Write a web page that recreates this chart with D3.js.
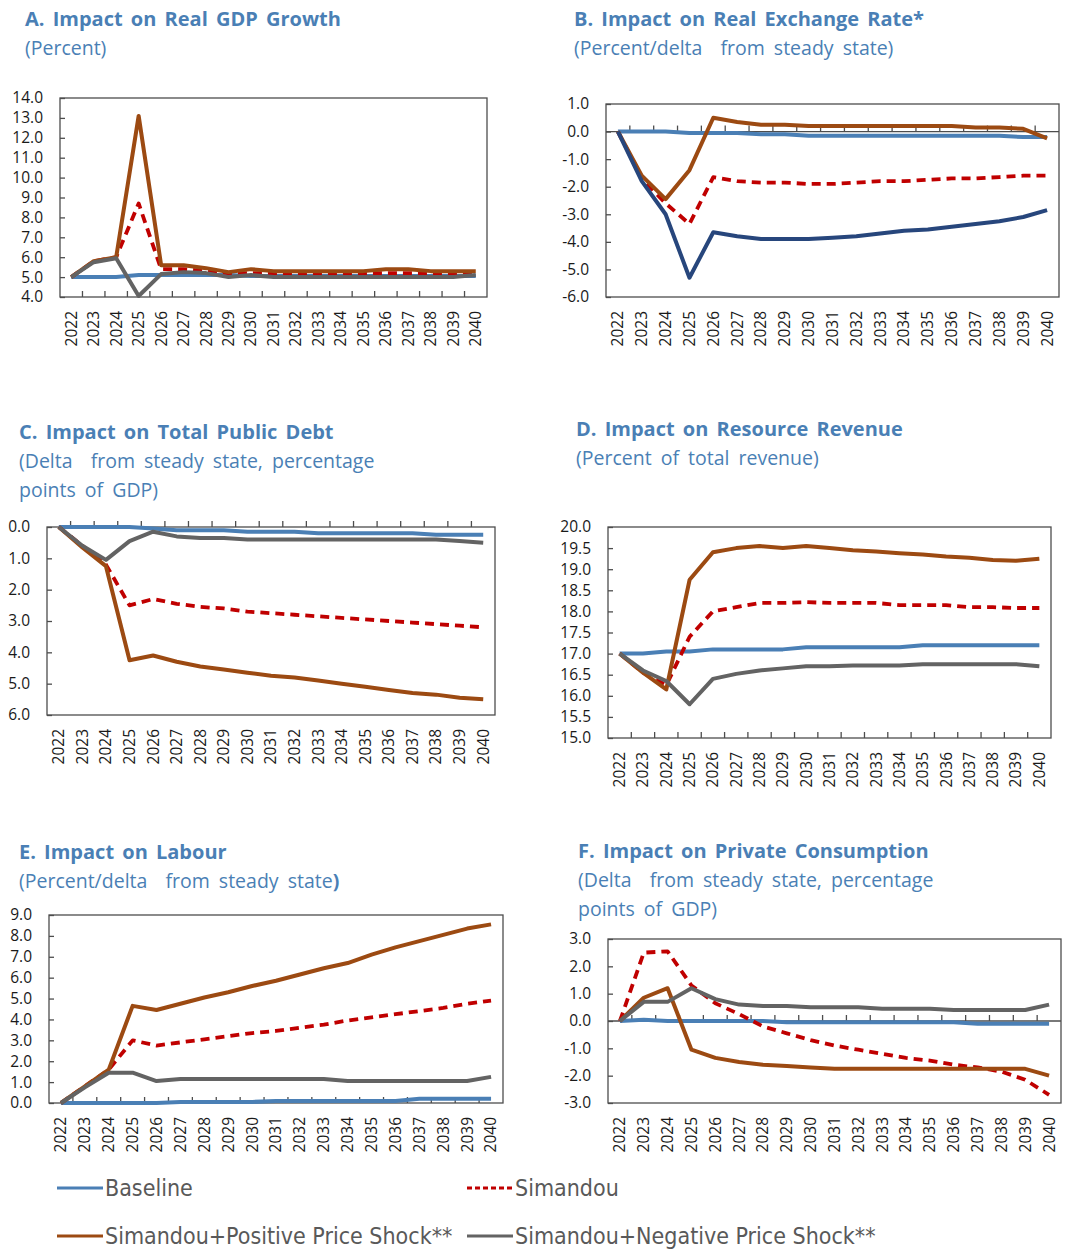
<!DOCTYPE html>
<html>
<head>
<meta charset="utf-8">
<script src="https://cdn.jsdelivr.net/npm/d3@7"></script>
<style>
  body { margin: 0; background: #fff; }
  svg { display: block; }
  .title { font-family: "Open Sans", "Noto Sans", sans-serif; font-weight: 700; fill: #4a7fb5; word-spacing: 3px; white-space: pre; }
  .sub { font-family: "Open Sans", "Noto Sans", sans-serif; fill: #4a7fb5; white-space: pre; }
  .tick text { font-family: "Open Sans", "Noto Sans", sans-serif; fill: #1a1a1a; }
  .legend text { font-family: "Liberation Sans Narrow", "DejaVu Sans Condensed", sans-serif; fill: #595959; }
</style>
</head>
<body>
<div id="chart"></div>
<script>
/** Data. */
const YEARS = ["2022", "2023", "2024", "2025", "2026", "2027", "2028", "2029", "2030", "2031",
               "2032", "2033", "2034", "2035", "2036", "2037", "2038", "2039", "2040"];

const SERIES_NAMES = ["Baseline", "Simandou", "Simandou+Positive Price Shock**", "Simandou+Negative Price Shock**"];

// A. Real GDP growth
const gdpBaseline = [5.0, 5.0, 5.0, 5.1, 5.1, 5.1, 5.1, 5.1, 5.05, 5.05, 5.05, 5.05, 5.05, 5.05, 5.05, 5.05, 5.05, 5.05, 5.05];
const gdpSimandou = [5.0, 5.8, 6.0, 8.7, 5.4, 5.4, 5.3, 5.2, 5.2, 5.2, 5.2, 5.2, 5.2, 5.2, 5.2, 5.2, 5.2, 5.2, 5.2];
const gdpPositive = [5.0, 5.8, 6.0, 13.1, 5.6, 5.6, 5.45, 5.25, 5.4, 5.3, 5.3, 5.3, 5.3, 5.3, 5.4, 5.4, 5.3, 5.3, 5.3];
const gdpNegative = [5.0, 5.75, 5.95, 4.05, 5.15, 5.25, 5.2, 5.0, 5.1, 5.0, 5.0, 5.0, 5.0, 5.0, 5.0, 5.0, 5.0, 5.0, 5.1];

// B. Real exchange rate
const rerBaseline = [0, 0, 0, -0.05, -0.05, -0.05, -0.1, -0.1, -0.15, -0.15, -0.15, -0.15, -0.15, -0.15, -0.15, -0.15, -0.15, -0.2, -0.2];
const rerSimandou = [0, -1.7, -2.6, -3.35, -1.65, -1.8, -1.85, -1.85, -1.9, -1.9, -1.85, -1.8, -1.8, -1.75, -1.7, -1.7, -1.65, -1.6, -1.6];
const rerPositive = [0, -1.6, -2.45, -1.4, 0.5, 0.35, 0.25, 0.25, 0.2, 0.2, 0.2, 0.2, 0.2, 0.2, 0.2, 0.15, 0.15, 0.1, -0.25];
const rerNegative = [0, -1.8, -3.0, -5.3, -3.65, -3.8, -3.9, -3.9, -3.9, -3.85, -3.8, -3.7, -3.6, -3.55, -3.45, -3.35, -3.25, -3.1, -2.85];

// C. Total public debt (reversed axis)
const debtBaseline = [0, 0, 0, 0, 0.05, 0.1, 0.1, 0.1, 0.15, 0.15, 0.15, 0.2, 0.2, 0.2, 0.2, 0.2, 0.25, 0.25, 0.25];
const debtSimandou = [0, 0.6, 1.2, 2.5, 2.3, 2.45, 2.55, 2.6, 2.7, 2.75, 2.8, 2.85, 2.9, 2.95, 3.0, 3.05, 3.1, 3.15, 3.2];
const debtPositive = [0, 0.65, 1.25, 4.25, 4.1, 4.3, 4.45, 4.55, 4.65, 4.75, 4.8, 4.9, 5.0, 5.1, 5.2, 5.3, 5.35, 5.45, 5.5];
const debtNegative = [0, 0.6, 1.05, 0.45, 0.15, 0.3, 0.35, 0.35, 0.4, 0.4, 0.4, 0.4, 0.4, 0.4, 0.4, 0.4, 0.4, 0.45, 0.5];

// D. Resource revenue
const revBaseline = [17.0, 17.0, 17.05, 17.05, 17.1, 17.1, 17.1, 17.1, 17.15, 17.15, 17.15, 17.15, 17.15, 17.2, 17.2, 17.2, 17.2, 17.2, 17.2];
const revSimandou = [17.0, 16.55, 16.25, 17.4, 18.0, 18.1, 18.2, 18.2, 18.22, 18.2, 18.2, 18.2, 18.15, 18.15, 18.15, 18.1, 18.1, 18.08, 18.08];
const revPositive = [17.0, 16.55, 16.15, 18.75, 19.4, 19.5, 19.55, 19.5, 19.55, 19.5, 19.45, 19.42, 19.38, 19.35, 19.3, 19.27, 19.22, 19.2, 19.25];
const revNegative = [17.0, 16.6, 16.35, 15.8, 16.4, 16.52, 16.6, 16.65, 16.7, 16.7, 16.72, 16.72, 16.72, 16.75, 16.75, 16.75, 16.75, 16.75, 16.7];

// E. Labour
const labBaseline = [0, 0, 0, 0, 0, 0.05, 0.05, 0.05, 0.05, 0.1, 0.1, 0.1, 0.1, 0.1, 0.1, 0.2, 0.2, 0.2, 0.2];
const labSimandou = [0, 0.8, 1.6, 3.0, 2.75, 2.9, 3.05, 3.2, 3.35, 3.45, 3.6, 3.75, 3.95, 4.1, 4.25, 4.4, 4.55, 4.75, 4.9];
const labPositive = [0, 0.8, 1.6, 4.65, 4.45, 4.75, 5.05, 5.3, 5.6, 5.85, 6.15, 6.45, 6.7, 7.1, 7.45, 7.75, 8.05, 8.35, 8.55];
const labNegative = [0, 0.75, 1.45, 1.45, 1.05, 1.15, 1.15, 1.15, 1.15, 1.15, 1.15, 1.15, 1.05, 1.05, 1.05, 1.05, 1.05, 1.05, 1.25];

// F. Private consumption
const conBaseline = [0, 0.05, 0, 0, 0, 0, 0, -0.05, -0.05, -0.05, -0.05, -0.05, -0.05, -0.05, -0.05, -0.1, -0.1, -0.1, -0.1];
const conSimandou = [0, 2.5, 2.55, 1.3, 0.65, 0.25, -0.2, -0.45, -0.7, -0.9, -1.05, -1.2, -1.35, -1.45, -1.6, -1.7, -1.85, -2.15, -2.7];
const conPositive = [0, 0.85, 1.2, -1.05, -1.35, -1.5, -1.6, -1.65, -1.7, -1.75, -1.75, -1.75, -1.75, -1.75, -1.75, -1.75, -1.75, -1.75, -2.0];
const conNegative = [0, 0.7, 0.7, 1.2, 0.8, 0.6, 0.55, 0.55, 0.5, 0.5, 0.5, 0.45, 0.45, 0.45, 0.4, 0.4, 0.4, 0.4, 0.6];

/** Styling. */
const WIDTH = 1066;
const HEIGHT = 1252;
const COLORS = {baseline: "#4a7fb5", simandou: "#c00000", positive: "#9c4a12", negative: "#636363", navy: "#27467c"};

const svg = d3.select("#chart").append("svg")
    .attr("width", WIDTH)
    .attr("height", HEIGHT);

const PANELS = [
    {title: "A. Impact on Real GDP Growth", sub: ["(Percent)"], tx: 25, ty: 26,
     box: {l: 60, t: 98, r: 487, b: 297}, domain: [4, 14], step: 1, tickAt: "bottom",
     series: [gdpBaseline, gdpSimandou, gdpPositive, gdpNegative]},
    {title: "B. Impact on Real Exchange Rate*", sub: ["(Percent/delta  from steady state)"], tx: 574, ty: 26,
     box: {l: 606, t: 104, r: 1059, b: 297}, domain: [-6, 1], step: 1, tickAt: "zero", negColor: COLORS.navy,
     series: [rerBaseline, rerSimandou, rerPositive, rerNegative]},
    {title: "C. Impact on Total Public Debt", sub: ["(Delta  from steady state, percentage", "points of GDP)"], tx: 19, ty: 439,
     box: {l: 47, t: 527, r: 495, b: 715}, domain: [0, 6], step: 1, tickAt: "top", reversed: true,
     series: [debtBaseline, debtSimandou, debtPositive, debtNegative]},
    {title: "D. Impact on Resource Revenue", sub: ["(Percent of total revenue)"], tx: 576, ty: 436,
     box: {l: 608, t: 527, r: 1051, b: 738}, domain: [15, 20], step: 0.5, tickAt: "bottom",
     series: [revBaseline, revSimandou, revPositive, revNegative]},
    {title: "E. Impact on Labour", sub: ["(Percent/delta  from steady state"], boldTail: ")", tx: 19, ty: 859,
     box: {l: 49, t: 915, r: 503, b: 1103}, domain: [0, 9], step: 1, tickAt: "bottom",
     series: [labBaseline, labSimandou, labPositive, labNegative]},
    {title: "F. Impact on Private Consumption", sub: ["(Delta  from steady state, percentage", "points of GDP)"], tx: 578, ty: 858,
     box: {l: 608, t: 939, r: 1061, b: 1103}, domain: [-3, 3], step: 1, tickAt: "zero",
     series: [conBaseline, conSimandou, conPositive, conNegative]},
];

const fmt = (d) => d3.format(".1f")(d).replace("\u2212", "-");

function drawPanel(p) {
    const g = svg.append("g");
    const {l, t, r, b} = p.box;

    g.append("text")
        .attr("class", "title")
        .attr("x", p.tx).attr("y", p.ty)
        .attr("font-size", 20)
        .text(p.title);
    p.sub.forEach((line, i) => {
        const s = g.append("text")
            .attr("class", "sub")
            .attr("x", p.tx).attr("y", p.ty + 29 + i * 29)
            .attr("font-size", 19.5)
            .attr("word-spacing", 4)
            .text(line);
        if (p.boldTail && i === p.sub.length - 1) {
            s.append("tspan").attr("font-weight", 700).text(p.boldTail);
        }
    });

    const x = d3.scaleBand().domain(YEARS).range([l, r]);
    const y = d3.scaleLinear()
        .domain(p.domain)
        .range(p.reversed ? [t, b] : [b, t]);

    // frame
    g.append("rect")
        .attr("x", l).attr("y", t)
        .attr("width", r - l).attr("height", b - t)
        .attr("fill", "none")
        .attr("stroke", "#4d4d4d")
        .attr("stroke-width", 1.3);

    // y axis
    const ticks = d3.range(p.domain[0], p.domain[1] + p.step / 2, p.step);
    const yAxis = d3.axisLeft(y)
        .tickValues(ticks)
        .tickFormat(fmt)
        .tickSizeInner(-5)
        .tickSizeOuter(0)
        .tickPadding(17);
    g.append("g")
        .attr("transform", `translate(${l},0)`)
        .call(yAxis)
        .call(a => a.select(".domain").remove())
        .call(a => a.selectAll("line").attr("stroke", "#4d4d4d").attr("stroke-width", 1.3))
        .call(a => a.selectAll("text").attr("font-size", 15.5));

    // category axis line + tick marks
    let axisY = b;
    if (p.tickAt === "zero") axisY = y(0);
    if (p.tickAt === "top") axisY = t;
    if (p.tickAt === "zero") {
        g.append("line")
            .attr("x1", l).attr("x2", r)
            .attr("y1", axisY).attr("y2", axisY)
            .attr("stroke", "#4d4d4d").attr("stroke-width", 1.3);
    }
    g.append("g")
        .selectAll("line")
        .data(YEARS.slice(1))
        .join("line")
        .attr("x1", (d) => x(d)).attr("x2", (d) => x(d))
        .attr("y1", axisY).attr("y2", axisY - 6)
        .attr("stroke", "#4d4d4d").attr("stroke-width", 1.3);

    // year labels
    const xAxis = d3.axisBottom(x).tickSize(0).tickPadding(0);
    g.append("g")
        .attr("transform", `translate(0,${b})`)
        .call(xAxis)
        .call(a => a.select(".domain").remove())
        .call(a => a.selectAll("text")
            .attr("font-size", 15.5)
            .attr("transform", "rotate(-90)")
            .attr("text-anchor", "end")
            .attr("x", -14)
            .attr("y", 0)
            .attr("dy", "0.35em"));

    // series
    const line = d3.line()
        .x((d, i) => x(YEARS[i]) + x.bandwidth() / 2)
        .y((d) => y(d));
    const styles = [
        {color: COLORS.baseline, dash: null, w: 4},
        {color: COLORS.simandou, dash: "9,6", w: 3.8},
        {color: COLORS.positive, dash: null, w: 4},
        {color: p.negColor || COLORS.negative, dash: null, w: 4},
    ];
    p.series.forEach((s, i) => {
        g.append("path")
            .attr("d", line(s))
            .attr("fill", "none")
            .attr("stroke", styles[i].color)
            .attr("stroke-width", styles[i].w)
            .attr("stroke-linejoin", "round")
            .attr("stroke-dasharray", styles[i].dash);
    });
}

PANELS.forEach(drawPanel);

// legend
const LEGEND = [
    {name: SERIES_NAMES[0], color: COLORS.baseline, dash: null, x: 57, y: 1188},
    {name: SERIES_NAMES[1], color: COLORS.simandou, dash: "5,3", x: 467, y: 1188},
    {name: SERIES_NAMES[2], color: COLORS.positive, dash: null, x: 57, y: 1236},
    {name: SERIES_NAMES[3], color: COLORS.negative, dash: null, x: 467, y: 1236},
];
const legend = svg.append("g").attr("class", "legend");
LEGEND.forEach((d) => {
    legend.append("line")
        .attr("x1", d.x).attr("x2", d.x + 46)
        .attr("y1", d.y).attr("y2", d.y)
        .attr("stroke", d.color)
        .attr("stroke-width", 3)
        .attr("stroke-dasharray", d.dash);
    legend.append("text")
        .attr("x", d.x + 48).attr("y", d.y)
        .attr("dy", "0.35em")
        .attr("font-size", 23)
        .text(d.name);
});
</script>
</body>
</html>
